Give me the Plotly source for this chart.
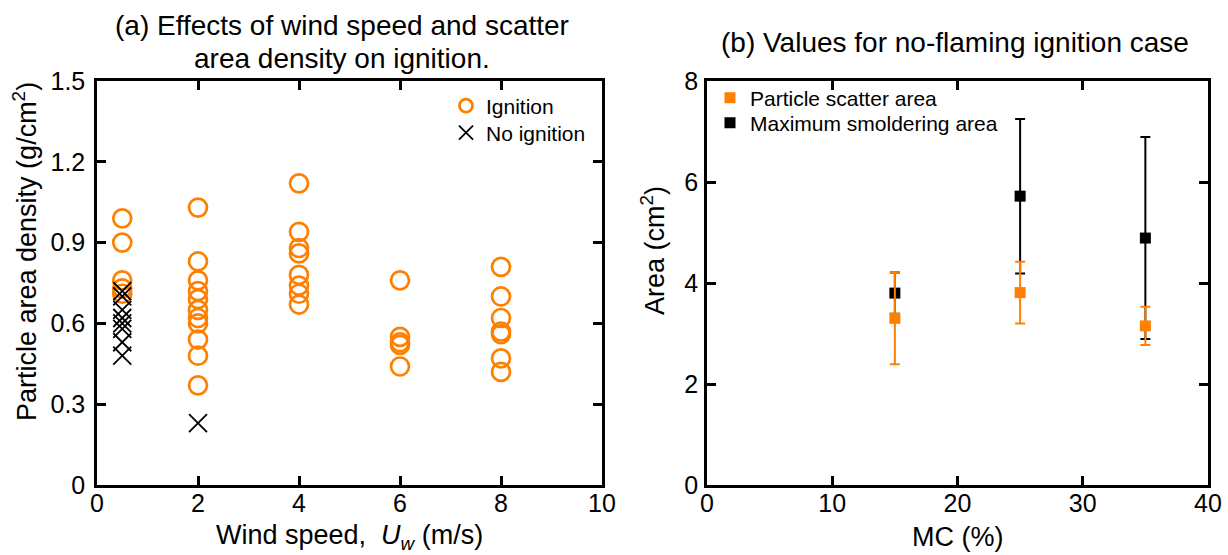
import plotly.graph_objects as go

# ---- Panel (a) data ----
ign_x = [0.5]*5 + [2]*11 + [4]*8 + [6]*5 + [8]*7
ign_y = [0.99, 0.90, 0.76, 0.73, 0.71,
         1.03, 0.83, 0.76, 0.72, 0.69, 0.65, 0.62, 0.60, 0.54, 0.48, 0.37,
         1.12, 0.94, 0.88, 0.86, 0.78, 0.74, 0.71, 0.67,
         0.76, 0.55, 0.53, 0.52, 0.44,
         0.81, 0.70, 0.62, 0.57, 0.56, 0.47, 0.42]
noign_x = [0.5]*8 + [2]
noign_y = [0.72, 0.70, 0.65, 0.62, 0.60, 0.58, 0.53, 0.48, 0.23]
a_xticks = [0, 2, 4, 6, 8, 10]
a_yticks = [0, 0.3, 0.6, 0.9, 1.2, 1.5]
a_yticktext = ["0", "0.3", "0.6", "0.9", "1.2", "1.5"]

# ---- Panel (b) data ----
mc = [15, 25, 35]
scatter_area = [3.30, 3.81, 3.15]
scatter_err = [0.91, 0.61, 0.38]
smolder_area = [3.80, 5.72, 4.89]
smolder_err = [0.41, 1.53, 2.00]
b_xticks = [0, 10, 20, 30, 40]
b_yticks = [0, 2, 4, 6, 8]

ORANGE = "#FF8000"
FONT = "Liberation Sans, Arial, sans-serif"
W, H = 1228, 555

fig = go.Figure()

# panel (a)
fig.add_trace(go.Scatter(x=ign_x, y=ign_y, mode="markers", xaxis="x", yaxis="y",
                         marker=dict(symbol="circle-open", size=18, color=ORANGE,
                                     line=dict(width=2.7, color=ORANGE)),
                         showlegend=False))
fig.add_trace(go.Scatter(x=noign_x, y=noign_y, mode="markers", xaxis="x", yaxis="y",
                         marker=dict(symbol="x-thin-open", size=18, color="black",
                                     line=dict(width=1.8, color="black")),
                         showlegend=False))
# legend entries for (a)
fig.add_trace(go.Scatter(x=[None], y=[None], mode="markers", xaxis="x", yaxis="y",
                         name="Ignition", legend="legend",
                         marker=dict(symbol="circle-open", size=13, color=ORANGE,
                                     line=dict(width=2.7, color=ORANGE))))
fig.add_trace(go.Scatter(x=[None], y=[None], mode="markers", xaxis="x", yaxis="y",
                         name="No ignition", legend="legend2",
                         marker=dict(symbol="x-thin-open", size=14, color="black",
                                     line=dict(width=1.8, color="black"))))

# panel (b)
fig.add_trace(go.Scatter(x=mc, y=smolder_area, mode="markers", xaxis="x2", yaxis="y2",
                         name="Maximum smoldering area", legend="legend4",
                         marker=dict(symbol="square", size=11, color="black"),
                         error_y=dict(type="data", array=smolder_err, visible=True,
                                      color="black", thickness=2, width=5)))
fig.add_trace(go.Scatter(x=mc, y=scatter_area, mode="markers", xaxis="x2", yaxis="y2",
                         name="Particle scatter area", legend="legend3",
                         marker=dict(symbol="square", size=11, color=ORANGE),
                         error_y=dict(type="data", array=scatter_err, visible=True,
                                      color=ORANGE, thickness=2, width=5)))

ydom = [70/H, (H-81)/H]
axis_common = dict(showgrid=False, zeroline=False, showline=True, linewidth=2.5,
                   linecolor="black", mirror="ticks", ticks="inside", ticklen=9,
                   tickwidth=2.5, tickcolor="black",
                   tickfont=dict(family=FONT, size=25, color="black"),
                   automargin=False)

leg_common = dict(xanchor="left", yanchor="middle", bgcolor="rgba(0,0,0,0)",
                  font=dict(family=FONT, size=21, color="black"), itemwidth=30)

fig.update_layout(
    width=W, height=H, autosize=False,
    margin=dict(l=0, r=0, t=0, b=0),
    paper_bgcolor="white", plot_bgcolor="white",
    font=dict(family=FONT, color="black"),
    xaxis=dict(domain=[97/W, 602/W], range=[0, 10], tickvals=a_xticks, anchor="y",
               ticklabelstandoff=-6, **axis_common),
    yaxis=dict(domain=ydom, range=[0, 1.5], tickvals=a_yticks, ticktext=a_yticktext,
               anchor="x", ticklabelstandoff=4, **axis_common),
    xaxis2=dict(domain=[707/W, 1208/W], range=[0, 40], tickvals=b_xticks, anchor="y2",
                ticklabelstandoff=-6, **axis_common),
    yaxis2=dict(domain=ydom, range=[0, 8], tickvals=b_yticks, anchor="x2",
                ticklabelstandoff=1, **axis_common),
    legend=dict(x=446/W, y=1-106/H, **leg_common),
    legend2=dict(x=446/W, y=1-133/H, **leg_common),
    legend3=dict(x=710/W, y=1-98/H, **leg_common),
    legend4=dict(x=710/W, y=1-123/H, **leg_common),
)

ann = [
    dict(text="(a) Effects of wind speed and scatter", x=342/W, y=1-26/H, size=28),
    dict(text="area density on ignition.", x=342/W, y=1-58/H, size=28),
    dict(text="(b) Values for no-flaming ignition case", x=955/W, y=1-43/H, size=28),
    dict(text="Wind speed,  <i>U<sub>w</sub></i> (m/s)", x=349/W, y=1-537/H, size=27),
    dict(text="MC (%)", x=957/W, y=1-537/H, size=27),
]
for a in ann:
    size = a.pop("size")
    fig.add_annotation(xref="paper", yref="paper", xanchor="center", yanchor="middle",
                       showarrow=False, font=dict(family=FONT, size=size, color="black"), **a)
fig.add_annotation(xref="paper", yref="paper", x=25/W, y=1-252/H, xanchor="center",
                   yanchor="middle", showarrow=False, textangle=-90,
                   text="Particle area density (g/cm<sup>2</sup>)",
                   font=dict(family=FONT, size=27, color="black"))
fig.add_annotation(xref="paper", yref="paper", x=653/W, y=1-251/H, xanchor="center",
                   yanchor="middle", showarrow=False, textangle=-90,
                   text="Area (cm<sup>2</sup>)",
                   font=dict(family=FONT, size=27, color="black"))

fig.write_html("out.html")
